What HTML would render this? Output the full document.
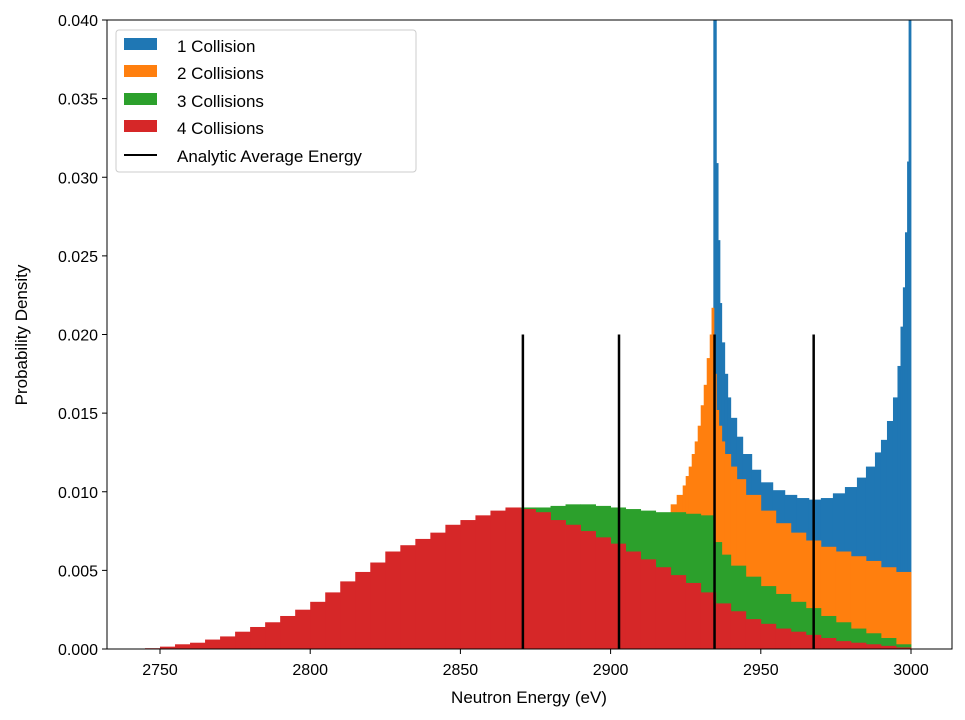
<!DOCTYPE html>
<html><head><meta charset="utf-8"><style>
body{margin:0;background:#fff;}
svg{display:block;font-family:"Liberation Sans",sans-serif;}
</style></head><body>
<svg id="chart" width="965" height="720" xmlns="http://www.w3.org/2000/svg">
<g id="bars"></g>
<g id="lines"></g>
<rect x="107" y="20" width="845" height="629" fill="none" stroke="#000" stroke-width="1"/>
<g id="axes" font-size="16" fill="#000"></g>
<text x="529" y="703" text-anchor="middle" font-size="17">Neutron Energy (eV)</text>
<text transform="translate(27,335) rotate(-90)" text-anchor="middle" font-size="17">Probability Density</text>
<g>
<rect x="116" y="30" width="300" height="142" rx="3" fill="#fff" fill-opacity="0.8" stroke="#ccc"/>
<g><rect x="124" y="38" width="33" height="12" fill="#1f77b4"/><text x="177" y="52" font-size="17">1 Collision</text></g>
<g><rect x="124" y="65" width="33" height="12" fill="#ff7f0e"/><text x="177" y="79" font-size="17">2 Collisions</text></g>
<g><rect x="124" y="93" width="33" height="12" fill="#2ca02c"/><text x="177" y="107" font-size="17">3 Collisions</text></g>
<g><rect x="124" y="120" width="33" height="12" fill="#d62728"/><text x="177" y="134" font-size="17">4 Collisions</text></g>
<g><line x1="124" y1="155" x2="157" y2="155" stroke="#000" stroke-width="2"/><text x="177" y="162" font-size="17">Analytic Average Energy</text></g>
</g>
</svg>
<script>
const blueEdges=[2934.2,2935.2,2935.8,2936.4,2937,2938,2939,2940,2942,2944,2947,2950,2954,2958,2962,2966,2970,2974,2978,2982,2985,2988,2990,2992,2994,2995.5,2996.5,2997.3,2998,2998.7,2999.2,3000];
const blueValues=[0.045,0.0309,0.026,0.022,0.0195,0.0175,0.016,0.0147,0.0135,0.0124,0.0114,0.0106,0.0101,0.0098,0.0096,0.0095,0.0096,0.0099,0.0103,0.0109,0.0116,0.0125,0.0133,0.0145,0.016,0.018,0.0205,0.023,0.0265,0.031,0.045];
const orangeEdges=[2918,2920,2922,2924,2925,2926,2927,2928,2929,2930,2931,2932,2933,2933.6,2934.4,2935.2,2936,2937,2938,2940,2942,2945,2950,2955,2960,2965,2970,2975,2980,2985,2990,2995,3000];
const orangeValues=[0.0085,0.0092,0.0098,0.0104,0.0110,0.0116,0.0124,0.0132,0.0142,0.0155,0.0168,0.0185,0.0200,0.0217,0.0175,0.0152,0.0142,0.0132,0.0124,0.0116,0.0108,0.0098,0.0088,0.0080,0.0074,0.0069,0.0065,0.0062,0.0059,0.0056,0.0052,0.0049];
const greenEdges=[2865,2870,2875,2880,2885,2890,2895,2900,2905,2910,2915,2920,2925,2930,2934.4,2937,2940,2945,2950,2955,2960,2965,2970,2975,2980,2985,2990,2995,3000];
const greenValues=[0.0089,0.009,0.009,0.0091,0.0092,0.0092,0.0091,0.009,0.0089,0.0088,0.0087,0.0087,0.0086,0.0085,0.0068,0.006,0.0053,0.0046,0.004,0.0035,0.003,0.0026,0.0021,0.0017,0.0013,0.001,0.0007,0.0003];
const redStart=2745, redBin=5;
const redValues=[0.00005,0.00015,0.0003,0.0004,0.0006,0.0008,0.0011,0.0014,0.0017,0.0021,0.0025,0.003,0.0036,0.0043,0.0049,0.0055,0.0062,0.0066,0.007,0.0074,0.0079,0.0082,0.0085,0.0088,0.009,0.0089,0.0087,0.0082,0.0079,0.0075,0.0071,0.0067,0.0062,0.0057,0.0052,0.0047,0.0042,0.0036,0.0029,0.0024,0.0019,0.0016,0.0013,0.0011,0.0009,0.0007,0.0005,0.0004,0.0003,0.0002,0.0001];
const avgEnergies=[2870.8,2902.8,2934.6,2967.6];
const avgHeight=0.02;
const xTicks=[2750,2800,2850,2900,2950,3000];
const yTicks=[0,0.005,0.01,0.015,0.02,0.025,0.03,0.035,0.04];

const NS="http://www.w3.org/2000/svg";
const X=e=>160+(e-2750)*751/250;
const Y=v=>649-v*629/0.04;
const barsG=document.getElementById('bars');
function draw(edges,vals,color,name){
  for(let i=0;i<vals.length;i++){
    const r=document.createElementNS(NS,'rect');
    const x0=X(edges[i]),x1=X(edges[i+1]);
    const top=Math.max(Y(vals[i]),20);
    r.setAttribute('x',x0);r.setAttribute('width',x1-x0+0.4);
    r.setAttribute('y',top);r.setAttribute('height',649-top);
    r.setAttribute('fill',color);
    
    
    barsG.appendChild(r);
  }
}
draw(blueEdges,blueValues,'#1f77b4','blue');
draw(orangeEdges,orangeValues,'#ff7f0e','orange');
draw(greenEdges,greenValues,'#2ca02c','green');
const redEdges=redValues.map((_,i)=>redStart+i*redBin).concat([redStart+redValues.length*redBin]);
draw(redEdges,redValues,'#d62728','red');
const linesG=document.getElementById('lines');
avgEnergies.forEach(e=>{
  const l=document.createElementNS(NS,'line');
  l.setAttribute('x1',X(e));l.setAttribute('x2',X(e));
  l.setAttribute('y1',Y(0));l.setAttribute('y2',Y(avgHeight));
  l.setAttribute('stroke','#000');l.setAttribute('stroke-width','2.5');
  
  
  linesG.appendChild(l);
});
const axG=document.getElementById('axes');
xTicks.forEach(t=>{
  const l=document.createElementNS(NS,'line');
  l.setAttribute('x1',X(t));l.setAttribute('x2',X(t));l.setAttribute('y1',649);l.setAttribute('y2',654);l.setAttribute('stroke','#000');
  
  
  axG.appendChild(l);
  const tx=document.createElementNS(NS,'text');
  tx.setAttribute('x',X(t));tx.setAttribute('y',675);tx.setAttribute('text-anchor','middle');
  tx.textContent=t;
  
  
  axG.appendChild(tx);
});
yTicks.forEach(t=>{
  const l=document.createElementNS(NS,'line');
  l.setAttribute('x1',102);l.setAttribute('x2',107);l.setAttribute('y1',Y(t));l.setAttribute('y2',Y(t));l.setAttribute('stroke','#000');
  
  
  axG.appendChild(l);
  const tx=document.createElementNS(NS,'text');
  tx.setAttribute('x',98);tx.setAttribute('y',Y(t)+6);tx.setAttribute('text-anchor','end');
  tx.textContent=t.toFixed(3);
  
  
  axG.appendChild(tx);
});
</script>
</body></html>
